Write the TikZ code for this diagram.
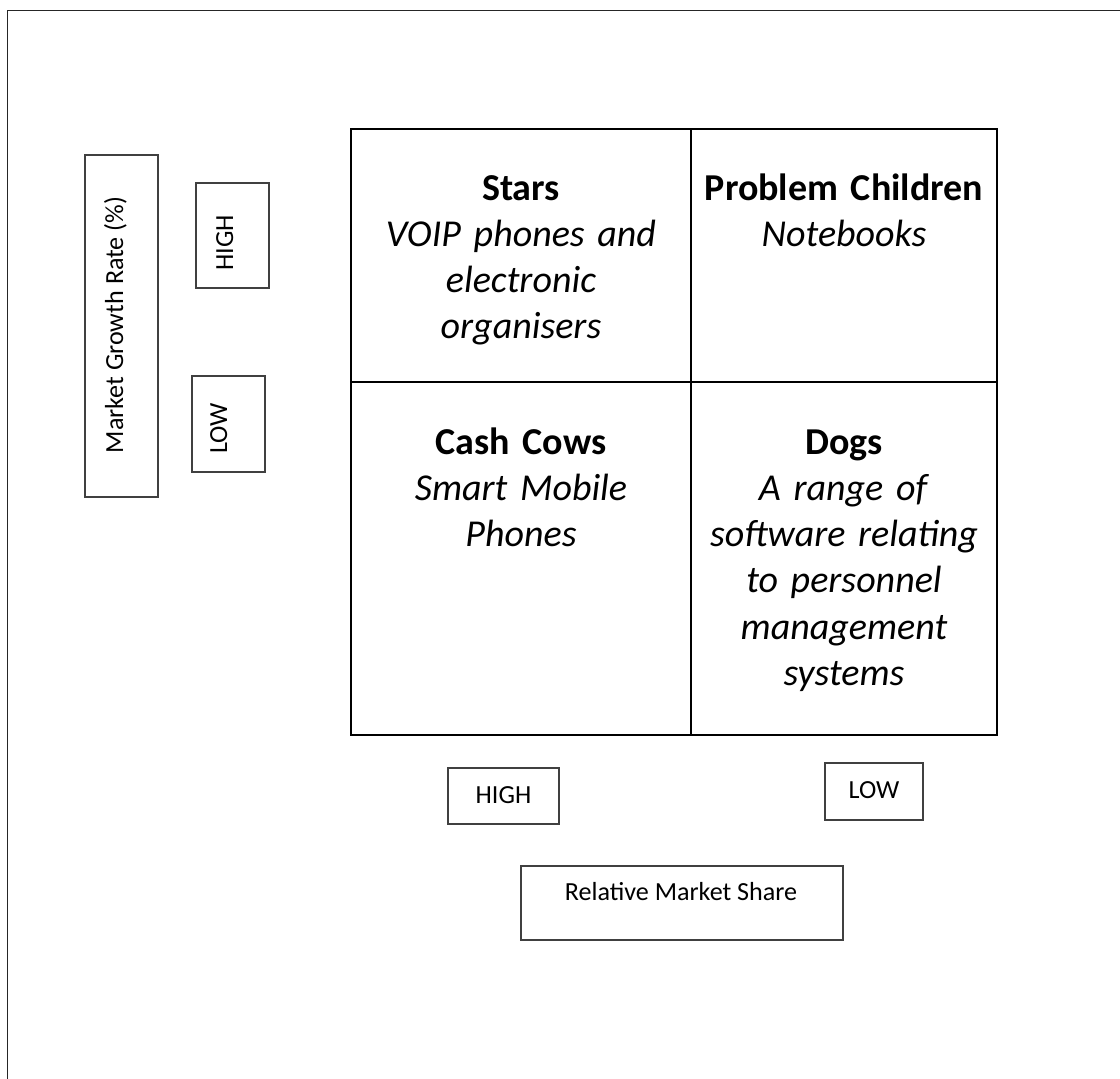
\documentclass[tikz,border=0pt]{standalone}
\usepackage{fontspec}
\setmainfont{Carlito}
\begin{document}
\begin{tikzpicture}[x=1pt,y=-1pt,
  cell/.style={draw=black,line width=2pt,inner sep=0pt,rectangle},
  tag/.style={draw=black!75,line width=1.1pt,inner sep=0pt,rectangle},
  big/.style={font=\fontsize{38}{46.3}\selectfont,align=center,text width=300pt,inner sep=0pt,anchor=base},
  small/.style={font=\fontsize{26.1}{31}\selectfont,inner sep=0pt,anchor=base}]
\useasboundingbox (0,0) rectangle (1120,1079);
% page frame
\draw[line width=1.5pt,black!85] (7.5,1079) -- (7.5,10.5) -- (1120,10.5);

% the four quadrants
\node[cell,minimum width=340pt,minimum height=253pt] (stars) at (521,255.5) {};
\node[cell,minimum width=306pt,minimum height=253pt] (problem) at (844,255.5) {};
\node[cell,minimum width=340pt,minimum height=353pt] (cows) at (521,558.5) {};
\node[cell,minimum width=306pt,minimum height=353pt] (dogs) at (844,558.5) {};

\node[big] (starsT) at ([yshift=-72pt]stars.north)
  {\textbf{Stars}\\\textit{VOIP phones and}\\\textit{electronic}\\\textit{organisers}};
\node[big] (problemT) at ([yshift=-72pt]problem.north)
  {\textbf{Problem Children}\\\textit{Notebooks}};
\node[big] (cowsT) at ([yshift=-73pt]cows.north)
  {\textbf{Cash Cows}\\\textit{Smart Mobile}\\\textit{Phones}};
\node[big] (dogsT) at ([yshift=-73pt]dogs.north)
  {\textbf{Dogs}\\\textit{A range of}\\\textit{software relating}\\\textit{to personnel}\\\textit{management}\\\textit{systems}};

% vertical axis labels
\node[tag,minimum width=73pt,minimum height=342pt] (growthBox) at (121.5,326) {};
\node[small,rotate=90] (growthT) at (123,325) {Market Growth Rate (\%)};
\node[tag,minimum width=73pt,minimum height=105pt] (vHighBox) at (232.5,235.5) {};
\node[small,rotate=90] (vHighT) at (233,243) {HIGH};
\node[tag,minimum width=73pt,minimum height=96pt] (vLowBox) at (228.5,424) {};
\node[small,rotate=90] (vLowT) at (227,428.5) {LOW};

% horizontal axis labels
\node[tag,minimum width=111pt,minimum height=56pt] (hHighBox) at (503.5,796) {};
\node[small] (hHighT) at (503.5,803) {HIGH};
\node[tag,minimum width=98pt,minimum height=57pt] (hLowBox) at (874,791.5) {};
\node[small] (hLowT) at (874,798) {LOW};
\node[tag,minimum width=322pt,minimum height=74pt] (shareBox) at (682,903) {};
\node[small] (shareT) at (681,900) {Relative Market Share};
\end{tikzpicture}
\end{document}
